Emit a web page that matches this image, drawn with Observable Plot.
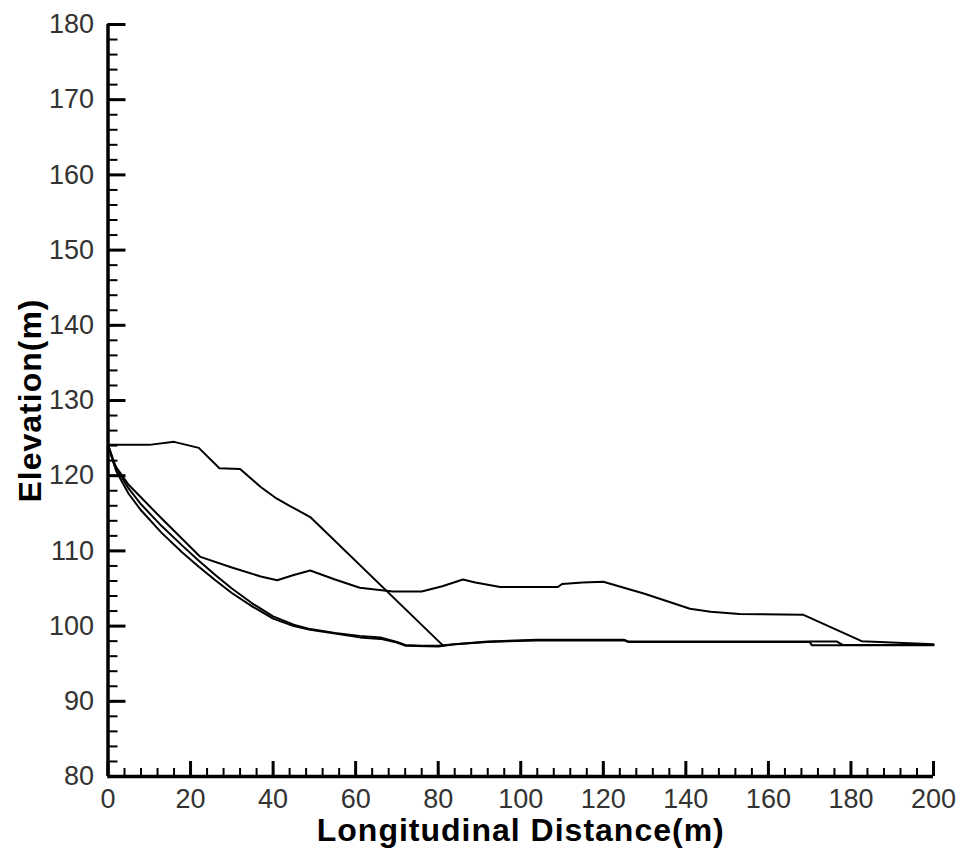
<!DOCTYPE html>
<html><head><meta charset="utf-8">
<script src="https://cdn.jsdelivr.net/npm/d3@7"></script>
<script src="https://cdn.jsdelivr.net/npm/@observablehq/plot@0.6"></script>
<style>body{margin:0;background:#fff}</style>
</head><body><div id="chart"></div>
<script>
// ---- data ----
const xTitle = "Longitudinal Distance(m)";
const yTitle = "Elevation(m)";
const xMajorTicks = [0,20,40,60,80,100,120,140,160,180,200];
const yMajorTicks = [80,90,100,110,120,130,140,150,160,170,180];
const xMinorTicks = d3.range(0, 201, 4);
const yMinorTicks = d3.range(80, 181, 2);

// profile A (upper profile, then straight slope down to the bed)
const aX = [0,10,16,22,27,32,37,40.5,44,49,81];
const aY = [124.1,124.1,124.5,123.7,121,120.9,118.5,117.1,116,114.5,97.5];
// profile B (middle)
const bX = [0,1.5,5,13,22.4,30,37,41,45,49,55,61,69,76,81,86,89,95,109,110,115,120,130,141,146,153,168.5,182.6,200];
const bY = [124.1,121.5,118.8,114.3,109.2,107.8,106.6,106.1,106.8,107.4,106.2,105.1,104.6,104.6,105.3,106.2,105.8,105.2,105.2,105.6,105.8,105.9,104.3,102.3,101.9,101.6,101.5,98.0,97.6];
// profile C (lower bundle, upper strand)
const cX = [0,2,5,8,13,18,22,26,30,35,40,45,49,55,61,66,70,72,76,80,84,92,104,125,126,140,176.6,178,200];
const cY = [124.1,121,118.3,116.2,113.3,110.7,108.7,106.8,105,103,101.3,100.2,99.6,99.1,98.7,98.5,97.9,97.5,97.4,97.4,97.6,97.95,98.2,98.2,97.95,97.95,97.95,97.5,97.5];
// profile D (lower bundle, lower strand)
const dX = [0,2,5,8,13,18,22,26,30,35,40,45,49,55,61,66,70,72,80,84,92,104,125,126,170,170.5,200];
const dY = [124.1,120.6,117.6,115.4,112.4,109.8,107.9,106.1,104.4,102.6,101.0,100.0,99.5,99.0,98.5,98.3,97.8,97.4,97.3,97.6,97.9,98.1,98.1,97.9,97.9,97.45,97.45];

const rows = [];
[["A",aX,aY],["B",bX,bY],["C",cX,cY],["D",dX,dY]].forEach(([s,xs,ys]) =>
  xs.forEach((x,i) => rows.push({series:s, x, y:ys[i]})));

const W = 964, H = 855, mL = 107.5, mR = 31, mT = 24, mB = 79;
const innerW = W - mL - mR, innerH = H - mT - mB;

const chart = Plot.plot({
  width: W, height: H,
  marginLeft: mL, marginRight: mR, marginTop: mT, marginBottom: mB,
  x: {domain: [0, 200]},
  y: {domain: [80, 180]},
  style: {fontFamily: "'Liberation Sans', Arial, sans-serif", background: "white", color: "black", overflow: "visible"},
  marks: [
    Plot.line(rows, {x: "x", y: "y", z: "series", stroke: "black", strokeWidth: 2}),
    Plot.tickX(xMinorTicks, {x: d => d, insetTop: innerH - 8, stroke: "black", strokeWidth: 2}),
    Plot.tickX(xMajorTicks, {x: d => d, insetTop: innerH - 15, stroke: "black", strokeWidth: 3}),
    Plot.tickY(yMinorTicks, {y: d => d, insetRight: innerW - 10, stroke: "black", strokeWidth: 2}),
    Plot.tickY(yMajorTicks, {y: d => d, insetRight: innerW - 18, stroke: "black", strokeWidth: 3}),
    Plot.ruleY([80], {stroke: "black", strokeWidth: 3.5}),
    Plot.ruleX([0], {stroke: "black", strokeWidth: 3.5}),
    Plot.axisX({ticks: xMajorTicks, tickSize: 0, tickPadding: 12, fontSize: 27, label: null, fill: "#333"}),
    Plot.axisY({ticks: yMajorTicks, tickSize: 0, tickPadding: 14, fontSize: 27, label: null, fill: "#333"}),
    Plot.text([xTitle], {text: d => d, frameAnchor: "bottom", textAnchor: "middle", lineAnchor: "middle", dy: 54, fontSize: 32, fontWeight: "bold", fill: "black"}),
    Plot.text([yTitle], {text: d => d, frameAnchor: "left", textAnchor: "middle", lineAnchor: "middle", dx: -77, rotate: -90, fontSize: 32, fontWeight: "bold", fill: "black"})
  ]
});
d3.select(chart).selectAll("text")
  .filter(function() { return this.textContent === xTitle || this.textContent === yTitle; })
  .attr("letter-spacing", "1px");
document.getElementById("chart").append(chart);
</script>
</body></html>
